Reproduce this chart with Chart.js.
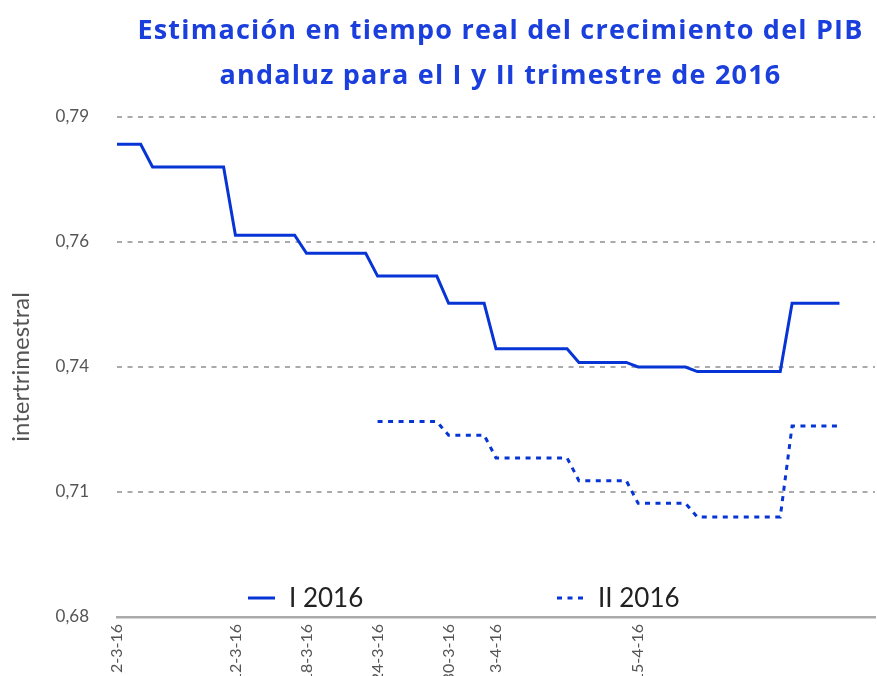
<!DOCTYPE html>
<html lang="es">
<head>
<meta charset="utf-8">
<title>PIB andaluz 2016</title>
<script src="https://cdn.jsdelivr.net/npm/chart.js@4.4.1/dist/chart.umd.min.js"></script>
<style>
  html, body { margin: 0; padding: 0; background: #fff; overflow: hidden; }
  #wrap { position: relative; width: 877px; height: 676px; overflow: hidden; }
  #chart { position: absolute; left: 0; top: 0; }
  #title {
    position: absolute; top: 6px; left: 124px; right: 0;
    text-align: center; font: 700 27px/45px "Open Sans", sans-serif; color: #1a3fdc;
    letter-spacing: 1.2px;
  }
</style>
</head>
<body>
<div id="wrap">
  <canvas id="chart" width="877" height="700" style="width:877px;height:700px"></canvas>
  <div id="title">Estimación en tiempo real del crecimiento del PIB<br>andaluz para el I y II trimestre de 2016</div>
</div>
<script>
// one category per day, 2 March to 5 May 2016
const days = [
  '2-3-16','3-3-16','4-3-16','5-3-16','6-3-16','7-3-16','8-3-16','9-3-16','10-3-16','11-3-16',
  '12-3-16','13-3-16','14-3-16','15-3-16','16-3-16','17-3-16','18-3-16','19-3-16','20-3-16','21-3-16',
  '22-3-16','23-3-16','24-3-16','25-3-16','26-3-16','27-3-16','28-3-16','29-3-16','30-3-16','31-3-16',
  '1-4-16','2-4-16','3-4-16','4-4-16','5-4-16','6-4-16','7-4-16','8-4-16','9-4-16','10-4-16',
  '11-4-16','12-4-16','13-4-16','14-4-16','15-4-16','16-4-16','17-4-16','18-4-16','19-4-16','20-4-16',
  '21-4-16','22-4-16','23-4-16','24-4-16','25-4-16','26-4-16','27-4-16','28-4-16','29-4-16','30-4-16',
  '1-5-16','2-5-16','3-5-16','4-5-16','5-5-16'
];
// dates that get a label on the axis
const shownDays = ['2-3-16','12-3-16','18-3-16','24-3-16','30-3-16','3-4-16','15-4-16'];

const q1 = [
  0.784, 0.784, 0.784,
  0.779, 0.779, 0.779, 0.779, 0.779, 0.779, 0.779,
  0.764, 0.764, 0.764, 0.764, 0.764, 0.764,
  0.760, 0.760, 0.760, 0.760, 0.760, 0.760,
  0.755, 0.755, 0.755, 0.755, 0.755, 0.755,
  0.749, 0.749, 0.749, 0.749,
  0.739, 0.739, 0.739, 0.739, 0.739, 0.739, 0.739,
  0.736, 0.736, 0.736, 0.736, 0.736,
  0.735, 0.735, 0.735, 0.735, 0.735,
  0.734, 0.734, 0.734, 0.734, 0.734, 0.734, 0.734, 0.734,
  0.749, 0.749, 0.749, 0.749, 0.749
];
const q2 = [
  null, null, null, null, null, null, null, null, null, null, null,
  null, null, null, null, null, null, null, null, null, null, null,
  0.723, 0.723, 0.723, 0.723, 0.723, 0.723,
  0.720, 0.720, 0.720, 0.720,
  0.715, 0.715, 0.715, 0.715, 0.715, 0.715, 0.715,
  0.710, 0.710, 0.710, 0.710, 0.710,
  0.705, 0.705, 0.705, 0.705, 0.705,
  0.702, 0.702, 0.702, 0.702, 0.702, 0.702, 0.702, 0.702,
  0.722, 0.722, 0.722, 0.722, 0.722
];

const yTicks = [0.68, 0.7075, 0.735, 0.7625, 0.79];
const yTickLabels = ['0,68', '0,71', '0,74', '0,76', '0,79'];

const BLUE = '#0735d5';

// legend sits inside the plot, just above the axis
const inlineLegend = {
  id: 'inlineLegend',
  afterDraw(chart) {
    const { ctx, chartArea } = chart;
    const lineY = chartArea.bottom - 19;
    const textY = chartArea.bottom - 10;
    const spots = [248, 557];
    ctx.save();
    ctx.font = '26px Lato, sans-serif';
    ctx.textBaseline = 'alphabetic';
    chart.data.datasets.forEach((ds, i) => {
      const x = spots[i];
      ctx.strokeStyle = ds.borderColor;
      ctx.lineWidth = ds.borderWidth;
      ctx.setLineDash(ds.borderDash || []);
      ctx.beginPath();
      ctx.moveTo(x, lineY);
      ctx.lineTo(x + 27, lineY);
      ctx.stroke();
      ctx.setLineDash([]);
      ctx.fillStyle = '#222';
      ctx.fillText(ds.label, x + 41, textY);
    });
    ctx.restore();
  }
};

function draw() {
  new Chart(document.getElementById('chart'), {
    type: 'line',
    data: {
      labels: days,
      datasets: [
        { label: 'I 2016', data: q1, borderColor: BLUE, borderWidth: 3, pointRadius: 0, tension: 0 },
        { label: 'II 2016', data: q2, borderColor: BLUE, borderWidth: 3, borderDash: [5, 5.5], pointRadius: 0, tension: 0 }
      ]
    },
    options: {
      responsive: false,
      animation: false,
      layout: { padding: { top: 117, bottom: 13, left: 0, right: 2 } },
      plugins: { legend: { display: false }, title: { display: false }, tooltip: { enabled: false } },
      scales: {
        x: {
          type: 'category',
          offset: false,
          grid: { display: false, drawTicks: false },
          border: { display: true, color: '#aaaaaa', width: 2.5 },
          ticks: {
            autoSkip: false, minRotation: 90, maxRotation: 90, padding: 7,
            color: '#555', font: { family: 'Lato', size: 16 },
            callback(value) {
              const lab = this.getLabelForValue(value);
              return shownDays.includes(lab) ? lab : '';
            }
          },
          afterFit(s) { s.height = 70; s.paddingLeft = 0; s.paddingRight = 0; }
        },
        y: {
          min: 0.68, max: 0.79,
          afterBuildTicks(s) { s.ticks = yTicks.map(v => ({ value: v })); },
          grid: { color: '#aaaaaa', lineWidth: 2, drawTicks: false },
          border: { display: false, dash: [5, 5.5] },
          ticks: {
            padding: 28, color: '#555', font: { family: 'Lato', size: 17 },
            callback(value, i) { return yTickLabels[i]; }
          },
          title: {
            display: true, text: 'intertrimestral', color: '#555',
            font: { family: 'Lato', size: 24 }, padding: { top: 7, bottom: 0 }
          },
          afterFit(s) { s.width = 117; s.paddingTop = 0; s.paddingBottom = 0; }
        }
      }
    },
    plugins: [inlineLegend]
  });
}

Promise.all([document.fonts.load('16px Lato'), document.fonts.load('700 27px "Open Sans"')]).then(draw, draw);
</script>
</body>
</html>
